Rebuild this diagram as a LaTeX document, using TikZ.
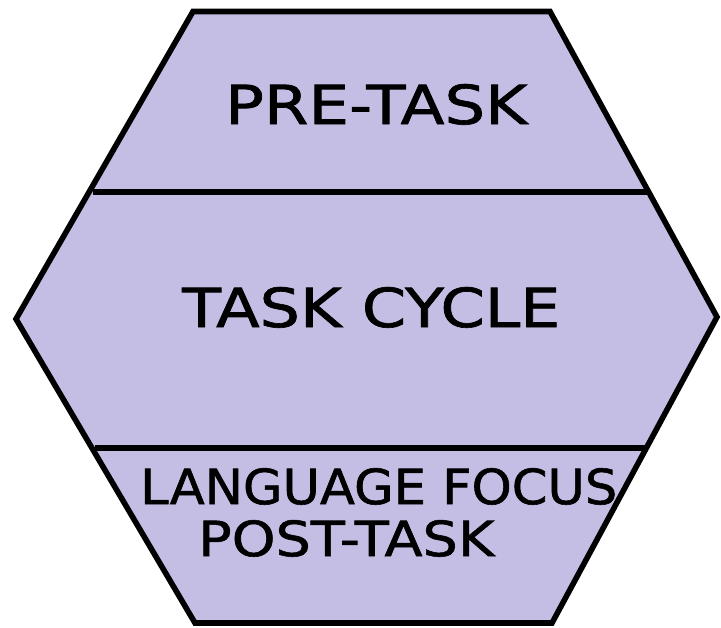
\documentclass[tikz,border=0pt]{standalone}
\usepackage{fontspec}
\setmainfont{DejaVu Sans}[FakeBold=1.2]
\definecolor{lav}{RGB}{197,190,228}
\tikzset{
  hexline/.style={line width=5.6pt, line join=miter},
  lbl/.style={inner sep=0pt, anchor=south west}
}
\newcommand{\fitbox}[3]{\resizebox{#1pt}{#2pt}{#3}}
\begin{document}
\begin{tikzpicture}[x=1pt,y=-1pt]
\useasboundingbox (0,0) rectangle (721,628);
\coordinate (tl) at (193,11.5);
\coordinate (tr) at (550,11.5);
\coordinate (r) at (717,317);
\coordinate (br) at (552,623);
\coordinate (bl) at (195,623);
\coordinate (l) at (16,319);
\fill[lav] (tl) -- (tr) -- (r) -- (br) -- (bl) -- (l) -- cycle;
\coordinate (a1) at (93,192);
\coordinate (a2) at (648,192);
\coordinate (b1) at (95,448);
\coordinate (b2) at (648,448);
\draw[hexline] (a1) -- (a2);
\draw[hexline] (b1) -- (b2);
\draw[hexline] (tl) -- (tr) -- (r) -- (br) -- (bl) -- (l) -- cycle;
\node[lbl] (pre) at (225,125) {\fitbox{302}{40}{PRE-TASK}};
\node[lbl] (cyc) at (182,328) {\fitbox{378}{40}{TASK CYCLE}};
\node[lbl] (lang) at (140,505) {\fitbox{477}{36}{LANGUAGE FOCUS}};
\node[lbl] (post) at (198,557) {\fitbox{296}{36}{POST-TASK}};
\end{tikzpicture}
\end{document}
